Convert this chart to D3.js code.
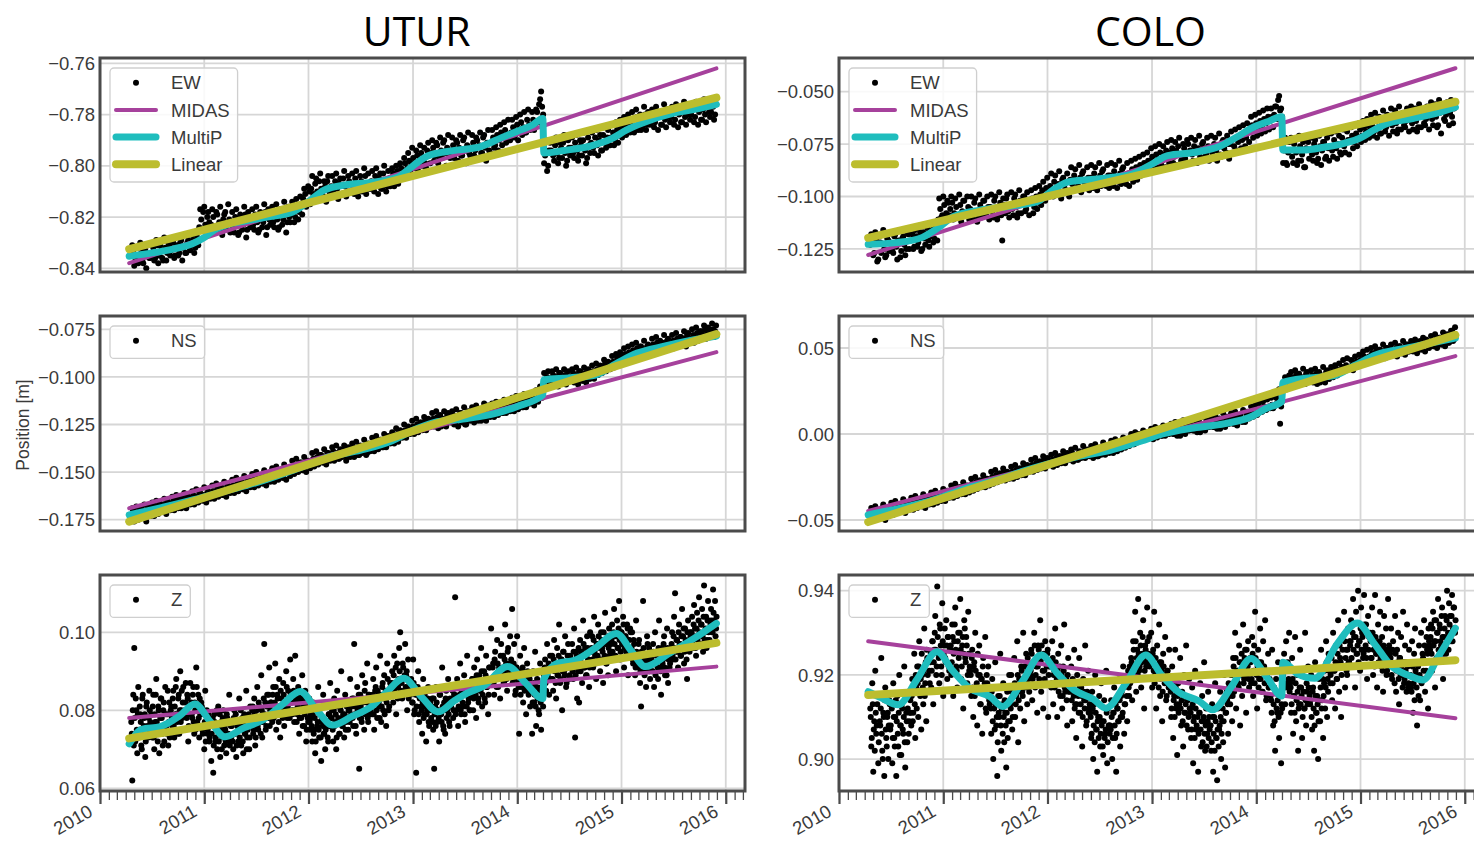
<!DOCTYPE html>
<html>
<head>
<meta charset="utf-8">
<script src="https://cdn.jsdelivr.net/npm/d3@7"></script>
<style>
  body { margin: 0; background: #fff; }
  svg { display: block; }
  text { font-family: "Liberation Sans", Arial, Helvetica, sans-serif; }
</style>
</head>
<body>
<svg id="fig" width="1474" height="843"></svg>
<script>
// ---------------------------------------------------------------------------
// GPS station positions in millimetres, starting 2010.30.
// "A" sets: EW / NS weekly, Z twice weekly. "B" sets: same cadence,
// sampled half a step later.
// ---------------------------------------------------------------------------
const uturEW = [
  -835,-833,-836,-832,-837,-834,-838,-833,-835,-836, -834,-832,-836,-831,-835,-833,-837,-832,-834,-831,
  -833,-830,-835,-831,-834,-829,-832,-834,-830,-832, -831,-829,-832,-828,-824,-821,-818,-823,-820,-822,
  -823,-820,-824,-819,-822,-825,-821,-818,-823,-821, -822,-824,-820,-823,-826,-821,-823,-819,-825,-822,
  -821,-823,-819,-822,-825,-820,-822,-818,-824,-821, -820,-822,-818,-821,-824,-819,-821,-817,-822,-820,
  -819,-817,-820,-816,-818,-815,-813,-811,-814,-810, -809,-811,-807,-810,-806,-809,-812,-808,-806,-810,
  -808,-810,-806,-809,-807,-811,-805,-808,-810,-806, -807,-809,-805,-808,-810,-806,-808,-804,-807,-809,
  -806,-808,-804,-807,-805,-809,-803,-806,-808,-805, -805,-803,-806,-802,-804,-801,-803,-799,-801,-798,
  -799,-797,-800,-796,-798,-795,-797,-799,-794,-796, -795,-793,-796,-792,-797,-794,-791,-795,-793,-796,
  -794,-792,-795,-791,-793,-796,-790,-794,-792,-795, -793,-791,-794,-790,-792,-795,-789,-793,-791,-794,
  -791,-789,-792,-788,-790,-787,-789,-786,-788,-790, -787,-785,-788,-784,-786,-783,-785,-787,-782,-784,
  -784,-782,-785,-779,-776,-771,-780,-796,-802,-794, -794,-796,-792,-795,-797,-793,-791,-795,-798,-793,
  -793,-795,-791,-794,-796,-792,-790,-794,-797,-792, -791,-793,-789,-792,-790,-794,-788,-791,-789,-792,
  -789,-787,-790,-786,-788,-785,-787,-784,-786,-783, -784,-782,-785,-781,-783,-786,-782,-780,-784,-782,
  -782,-780,-783,-779,-781,-784,-780,-782,-778,-781, -781,-779,-782,-778,-780,-783,-779,-781,-777,-780,
  -780,-778,-781,-777,-779,-782,-778,-780,-776,-779, -779,-777,-780
];
const uturEWb = [
  -831,-839,-832,-838,-830,-837,-833,-840,-831,-836, -830,-837,-829,-838,-831,-836,-828,-837,-830,-835,
  -829,-836,-828,-835,-830,-837,-827,-834,-829,-833, -827,-834,-826,-831,-817,-825,-816,-826,-818,-824,
  -817,-826,-818,-825,-816,-827,-819,-824,-815,-826, -818,-826,-817,-827,-819,-825,-816,-828,-818,-824,
  -817,-825,-816,-826,-818,-824,-815,-827,-817,-823, -816,-824,-815,-825,-817,-823,-814,-826,-816,-822,
  -814,-822,-813,-821,-812,-819,-809,-816,-808,-815, -804,-813,-805,-812,-803,-811,-806,-814,-804,-812,
  -804,-812,-803,-813,-805,-811,-802,-812,-804,-810, -803,-811,-802,-812,-804,-810,-801,-811,-803,-809,
  -802,-810,-801,-811,-803,-809,-800,-810,-802,-808, -801,-808,-800,-807,-799,-805,-797,-804,-795,-802,
  -793,-801,-794,-802,-792,-800,-793,-801,-791,-799, -790,-798,-791,-799,-789,-797,-790,-800,-788,-797,
  -789,-797,-790,-798,-788,-796,-789,-799,-787,-796, -788,-796,-789,-797,-787,-795,-788,-798,-786,-795,
  -786,-793,-785,-794,-784,-792,-783,-791,-782,-790, -782,-789,-781,-790,-780,-788,-779,-787,-778,-786,
  -779,-786,-778,-783,-774,-777,-799,-790,-800,-791, -790,-798,-789,-799,-791,-797,-788,-800,-790,-796,
  -789,-797,-788,-798,-790,-796,-787,-799,-789,-795, -787,-795,-786,-796,-788,-794,-785,-793,-786,-792,
  -784,-792,-783,-791,-782,-789,-781,-788,-780,-787, -779,-787,-778,-786,-780,-785,-777,-786,-779,-784,
  -778,-785,-777,-786,-779,-784,-776,-785,-778,-783, -777,-784,-776,-785,-778,-783,-775,-784,-777,-782,
  -776,-783,-775,-784,-777,-782,-774,-783,-776,-781, -775,-782,-776
];
const uturNS = [
  -173,-170,-174,-171,-172,-169,-173,-170,-171,-168, -170,-167,-171,-168,-166,-170,-167,-169,-165,-168,
  -167,-165,-168,-164,-166,-169,-164,-166,-163,-165, -165,-162,-166,-163,-161,-164,-162,-165,-161,-163,
  -162,-160,-163,-159,-161,-158,-162,-159,-157,-160, -159,-157,-160,-156,-158,-155,-159,-156,-154,-157,
  -156,-154,-157,-153,-155,-152,-156,-153,-151,-154, -153,-151,-154,-150,-152,-149,-153,-150,-148,-151,
  -149,-147,-150,-146,-148,-145,-149,-146,-144,-147, -145,-143,-146,-142,-144,-141,-145,-142,-140,-143,
  -141,-139,-142,-140,-143,-139,-141,-138,-142,-140, -139,-137,-140,-138,-141,-137,-139,-136,-140,-138,
  -137,-135,-138,-134,-136,-133,-137,-134,-135,-133, -134,-131,-133,-130,-132,-129,-131,-128,-130,-127,
  -128,-126,-129,-125,-127,-124,-126,-123,-125,-124, -124,-122,-125,-121,-123,-126,-122,-124,-120,-123,
  -122,-120,-124,-121,-123,-119,-122,-125,-120,-121, -121,-119,-122,-118,-120,-123,-119,-121,-117,-120,
  -119,-117,-120,-116,-118,-115,-119,-116,-114,-117, -116,-114,-117,-113,-115,-112,-116,-113,-111,-114,
  -113,-111,-112,-108,-110,-107,-109,-102,-100,-103, -101,-99,-102,-100,-98,-101,-103,-99,-100,-102,
  -100,-98,-101,-99,-97,-100,-102,-98,-99,-101, -99,-97,-98,-96,-97,-95,-96,-93,-95,-94,
  -94,-92,-93,-90,-92,-89,-91,-88,-89,-87, -88,-86,-87,-85,-87,-84,-86,-88,-84,-85,
  -85,-83,-86,-82,-84,-86,-82,-84,-81,-83, -83,-81,-84,-80,-82,-79,-83,-80,-78,-81,
  -80,-78,-81,-77,-79,-76,-78,-75,-77,-76, -77,-75,-76
];
const uturNSb = [
  -169,-176,-168,-175,-170,-174,-167,-176,-169,-173, -166,-173,-165,-172,-167,-171,-164,-172,-166,-170,
  -163,-170,-162,-169,-164,-168,-161,-169,-163,-167, -160,-167,-159,-166,-161,-165,-158,-166,-160,-164,
  -157,-164,-156,-163,-158,-162,-155,-163,-157,-161, -154,-161,-153,-160,-155,-159,-152,-160,-154,-158,
  -151,-158,-150,-157,-152,-156,-149,-157,-151,-155, -148,-155,-147,-154,-149,-153,-146,-154,-148,-152,
  -144,-151,-143,-150,-145,-149,-142,-150,-144,-148, -140,-147,-139,-146,-141,-145,-138,-146,-140,-144,
  -137,-144,-136,-143,-138,-142,-136,-144,-137,-142, -135,-142,-134,-141,-136,-140,-133,-141,-135,-139,
  -132,-139,-131,-138,-133,-137,-130,-137,-131,-135, -129,-135,-127,-134,-128,-132,-125,-132,-126,-130,
  -123,-130,-122,-129,-124,-128,-121,-128,-122,-126, -119,-126,-118,-127,-120,-125,-118,-126,-119,-124,
  -118,-125,-117,-126,-119,-124,-116,-125,-118,-123, -116,-124,-115,-123,-117,-122,-114,-123,-115,-121,
  -114,-121,-113,-120,-115,-119,-112,-119,-113,-118, -111,-118,-110,-117,-112,-116,-109,-116,-110,-114,
  -109,-115,-107,-113,-105,-111,-98,-104,-97,-105, -97,-104,-96,-105,-98,-103,-96,-104,-97,-102,
  -96,-103,-95,-104,-97,-102,-95,-103,-96,-101, -94,-101,-93,-99,-94,-98,-91,-97,-92,-96,
  -89,-95,-88,-94,-87,-92,-85,-91,-84,-89, -83,-89,-82,-88,-84,-87,-81,-89,-83,-86,
  -80,-87,-79,-86,-81,-85,-78,-86,-80,-84, -78,-85,-77,-84,-79,-83,-76,-84,-77,-82,
  -75,-82,-74,-81,-76,-80,-73,-80,-74,-78, -72,-79,-73
];
const uturZ = [
  77,62,84,96,72,80,69,86,75,79,71,83,74,78,68,81,76,73,85,77,
  79,73,84,70,77,88,75,81,69,78,83,74,80,72,86,76,79,71,82,77,
  81,76,85,73,79,88,77,83,74,90,80,78,86,75,82,79,84,72,81,87,
  82,78,86,74,80,91,77,84,73,79,82,75,80,70,85,77,74,79,72,76,
  67,76,64,79,72,75,70,81,74,68,77,73,80,71,75,69,78,74,84,72,
  73,77,70,80,74,68,76,72,83,75,71,78,69,79,74,85,73,77,70,81,
  76,80,74,83,71,78,86,75,81,77,89,73,79,97,82,76,84,78,91,80,
  82,77,86,79,92,75,84,80,88,73,83,79,87,76,81,90,78,85,82,93,
  84,80,88,77,94,82,79,86,74,83,78,89,81,76,85,72,80,77,83,75,
  78,72,82,75,69,80,76,86,73,79,67,77,84,74,70,81,76,72,79,87,
  76,80,72,83,77,70,85,78,74,81,90,76,79,73,84,77,82,75,80,88,
  79,83,76,97,81,74,86,80,65,84,78,89,82,75,87,80,92,77,84,79,
  83,79,88,75,85,91,78,84,81,94,77,86,80,89,83,76,92,85,81,87,
  85,90,82,94,87,79,92,86,96,100,88,83,91,85,97,89,80,93,86,84,
  88,82,93,79,86,64,84,90,77,85,81,74,88,79,83,72,80,86,76,82,
  78,83,75,65,81,86,77,80,72,84,79,91,76,82,74,85,80,88,77,83,
  81,86,78,84,109,80,88,76,83,92,79,85,81,89,77,84,94,82,86,80,
  84,88,80,91,86,78,93,83,89,85,96,81,87,90,82,94,86,79,91,88,
  101,87,92,84,95,89,98,86,91,83,97,90,94,87,102,92,85,96,89,99,
  93,106,88,97,84,91,99,87,74,94,86,90,82,96,88,79,92,85,89,81,
  86,74,90,82,95,76,88,84,79,92,75,86,81,89,93,85,97,90,84,94,
  88,94,85,98,91,83,96,89,102,87,93,80,95,90,99,86,92,97,88,94,
  92,97,88,101,73,95,83,90,82,98,94,87,103,91,96,89,99,93,86,100,
  95,99,91,104,94,88,97,102,93,90,100,96,87,98,105,92,97,89,101,95,
  97,102,94,106,99,90,103,96,108,93,100,97,104,91,99,95,102,89,98,101,
  96,100,92,97,89,103,94,91,98,87,81,95,108,90,93,86,99,92,96,88,
  94,90,97,86,100,92,95,88,103,91,84,96,93,99,89,94,101,87,95,92,
  96,100,93,104,110,95,98,91,102,97,94,106,99,92,101,96,88,103,98,100,
  99,104,96,107,101,94,105,99,109,97,102,106,95,112,100,104,98,108,103,97,
  106,100,111,103,108,101
];
const uturZb = [
  74,80,71,78,83,75,79,73,81,77,70,84,76,79,72,82,75,78,80,74,
  76,81,73,79,84,77,72,80,75,83,78,71,82,76,79,74,85,77,73,80,
  78,83,76,81,86,79,74,84,80,77,85,82,75,80,87,78,83,76,81,79,
  79,84,77,82,75,86,80,78,83,76,81,74,79,77,72,80,75,78,73,77,
  74,78,71,77,73,80,76,72,79,75,70,78,74,76,72,79,73,77,71,76,
  76,72,78,74,79,71,77,75,73,80,76,72,78,74,77,70,75,79,73,76,
  77,81,75,79,73,80,76,82,78,74,80,77,83,79,75,81,78,84,76,82,
  80,84,78,82,86,79,83,77,81,85,80,78,84,82,79,86,81,83,78,84,
  82,79,85,80,83,77,81,84,78,82,80,76,83,79,81,75,78,80,77,79,
  76,79,74,78,72,80,77,75,79,73,78,76,74,81,75,77,73,79,76,78,
  78,75,80,76,79,73,81,77,74,80,78,76,82,79,75,81,78,80,77,82,
  81,78,83,79,76,82,80,84,78,81,77,83,80,85,79,82,78,84,81,80,
  81,84,79,83,86,80,85,82,78,84,81,87,83,79,85,82,88,80,84,86,
  87,84,89,85,91,86,83,88,90,85,87,92,84,89,86,90,88,83,87,85,
  85,82,87,80,84,81,86,79,83,85,80,82,78,84,81,79,83,77,82,80,
  81,77,83,79,76,82,80,78,84,79,77,81,75,80,83,78,82,79,76,81,
  82,85,80,84,79,83,86,81,84,80,85,82,87,79,84,81,86,83,80,85,
  85,88,83,87,84,89,86,82,88,85,90,84,87,83,89,86,88,84,91,87,
  88,91,87,93,89,86,92,90,88,94,89,91,87,93,90,88,95,89,92,90,
  90,87,92,88,85,91,89,86,90,84,88,91,87,85,89,86,90,84,88,86,
  85,82,87,84,81,86,83,80,85,82,86,83,88,91,87,90,89,92,88,91,
  91,88,93,90,87,92,89,94,91,88,93,90,95,89,92,87,94,91,89,93,
  93,90,95,92,89,94,91,96,93,90,95,92,97,91,94,89,96,93,91,95,
  96,93,98,95,92,97,94,99,96,93,98,95,100,94,97,92,99,96,94,98,
  98,95,100,97,94,99,96,101,98,95,100,97,102,96,99,94,101,98,96,100,
  96,93,98,94,91,95,92,97,93,90,95,92,96,89,94,91,97,93,90,95,
  93,90,95,92,89,94,91,96,93,90,95,92,97,91,94,89,96,93,91,95,
  97,94,99,96,93,98,95,100,97,94,99,96,101,95,98,93,100,97,95,99,
  100,97,102,99,96,101,98,103,100,97,102,99,104,98,101,96,103,100,98,102,
  103,100,105,102,99,104
];
const coloEW = [
  -123,-119,-127,-121,-130,-122,-118,-125,-128,-121, -122,-126,-119,-124,-121,-129,-120,-123,-125,-118,
  -121,-118,-124,-119,-122,-117,-125,-120,-118,-121, -119,-116,-120,-115,-111,-106,-109,-104,-108,-103,
  -106,-103,-108,-105,-110,-104,-107,-102,-109,-105, -106,-108,-103,-107,-110,-104,-106,-102,-108,-105,
  -105,-107,-102,-106,-109,-103,-121,-104,-101,-107, -104,-106,-101,-105,-108,-102,-104,-100,-106,-103,
  -103,-101,-105,-100,-103,-99,-97,-101,-96,-98, -95,-97,-93,-96,-94,-98,-92,-95,-97,-93,
  -92,-94,-90,-93,-95,-91,-89,-93,-96,-91, -91,-93,-89,-92,-94,-90,-88,-92,-95,-90,
  -90,-92,-88,-91,-93,-89,-87,-91,-94,-89, -89,-87,-91,-86,-88,-85,-87,-84,-86,-83,
  -83,-81,-84,-80,-82,-79,-83,-80,-78,-81, -79,-77,-81,-78,-76,-80,-82,-77,-79,-75,
  -78,-80,-76,-79,-77,-81,-75,-78,-80,-76, -77,-79,-75,-78,-76,-80,-74,-77,-79,-75,
  -75,-73,-76,-72,-74,-71,-73,-70,-72,-69, -68,-66,-69,-65,-67,-64,-66,-63,-65,-62,
  -64,-62,-61,-57,-54,-59,-62,-78,-84,-79, -78,-81,-75,-79,-83,-76,-80,-86,-77,-74,
  -78,-80,-75,-79,-82,-76,-78,-74,-81,-77, -76,-78,-73,-77,-75,-79,-72,-76,-74,-73,
  -73,-71,-74,-70,-72,-68,-71,-67,-69,-66, -68,-66,-69,-64,-67,-70,-65,-63,-67,-64,
  -64,-66,-62,-65,-68,-63,-61,-66,-64,-62, -63,-65,-61,-64,-67,-62,-60,-65,-63,-61,
  -61,-63,-59,-62,-66,-60,-58,-63,-61,-59, -60,-62,-58
];
const coloEWb = [
  -118,-128,-117,-131,-119,-127,-116,-129,-120,-126, -117,-127,-118,-130,-116,-126,-119,-128,-117,-125,
  -115,-125,-116,-124,-114,-126,-117,-123,-115,-124, -113,-122,-114,-121,-101,-110,-100,-111,-102,-109,
  -100,-111,-101,-110,-99,-112,-102,-109,-100,-111, -100,-111,-101,-112,-99,-110,-102,-109,-100,-111,
  -99,-110,-100,-111,-98,-109,-101,-108,-99,-110, -98,-109,-99,-110,-97,-108,-100,-107,-98,-109,
  -97,-108,-96,-106,-95,-104,-93,-102,-91,-100, -89,-100,-90,-99,-88,-101,-91,-98,-89,-100,
  -86,-97,-87,-96,-85,-98,-88,-95,-86,-97, -85,-96,-86,-97,-84,-95,-87,-94,-85,-96,
  -84,-95,-85,-96,-83,-94,-86,-93,-84,-95, -83,-93,-82,-92,-81,-90,-80,-89,-79,-88,
  -77,-87,-76,-86,-75,-85,-76,-86,-74,-84, -73,-84,-74,-85,-72,-83,-75,-82,-73,-84,
  -72,-83,-73,-84,-71,-82,-74,-81,-72,-83, -71,-82,-72,-83,-70,-81,-73,-80,-71,-82,
  -69,-79,-68,-78,-67,-77,-66,-76,-65,-74, -62,-72,-61,-71,-60,-70,-59,-69,-58,-68,
  -58,-67,-57,-63,-52,-58,-84,-72,-85,-74, -72,-84,-73,-85,-71,-83,-74,-86,-72,-82,
  -72,-83,-73,-84,-71,-85,-74,-82,-72,-83, -70,-81,-69,-82,-71,-80,-68,-79,-69,-80,
  -67,-77,-66,-76,-65,-74,-64,-73,-63,-72, -61,-71,-60,-72,-62,-70,-59,-69,-61,-71,
  -58,-69,-59,-70,-57,-68,-60,-67,-58,-69, -57,-68,-58,-69,-56,-67,-59,-66,-57,-68,
  -55,-66,-56,-67,-54,-70,-57,-64,-55,-66, -54,-65,-56
];
const coloNS = [
  -47,-44,-48,-45,-49,-46,-43,-47,-44,-45, -44,-42,-46,-43,-41,-45,-42,-44,-40,-43,
  -42,-40,-43,-39,-41,-38,-42,-39,-37,-40, -39,-37,-40,-36,-38,-35,-37,-34,-36,-35,
  -35,-33,-36,-32,-34,-31,-33,-30,-32,-31, -31,-29,-32,-28,-30,-27,-29,-26,-28,-27,
  -27,-25,-28,-24,-26,-23,-25,-22,-24,-25, -24,-22,-25,-21,-23,-20,-22,-19,-21,-20,
  -20,-18,-21,-17,-19,-16,-18,-15,-17,-16, -17,-15,-18,-14,-16,-13,-15,-12,-14,-13,
  -13,-11,-14,-12,-15,-11,-13,-10,-12,-11, -11,-9,-12,-10,-13,-9,-11,-8,-10,-9,
  -9,-7,-10,-6,-8,-5,-7,-4,-6,-5, -5,-3,-6,-2,-4,-1,-3,0,-2,-1,
  -1,1,-2,2,0,3,-1,2,0,1, 1,3,0,4,2,-1,3,1,5,2,
  3,5,2,6,4,1,5,3,7,4, 5,7,4,8,6,3,7,5,9,6,
  7,9,6,10,8,11,7,9,12,10, 10,12,11,14,12,15,13,16,14,15,
  15,17,16,21,24,6,19,30,28,32, 31,33,30,34,32,29,33,31,35,32,
  32,34,31,35,33,30,34,32,36,33, 34,36,35,38,36,37,39,37,40,38,
  38,40,39,42,41,43,42,45,43,44, 45,47,44,48,46,49,45,47,50,46,
  47,49,46,50,48,51,47,49,52,48, 50,52,49,53,51,54,50,52,55,51,
  52,54,51,55,53,56,52,54,57,53, 56,60,55
];
const coloNSb = [
  -43,-50,-42,-49,-44,-48,-41,-50,-43,-47, -40,-47,-39,-46,-41,-45,-38,-46,-40,-44,
  -37,-44,-36,-43,-38,-42,-35,-43,-37,-41, -34,-41,-33,-40,-35,-39,-32,-39,-33,-37,
  -30,-37,-29,-36,-31,-35,-28,-35,-30,-34, -26,-33,-25,-32,-27,-31,-24,-31,-26,-30,
  -22,-29,-21,-28,-23,-27,-20,-27,-22,-26, -19,-26,-18,-25,-20,-24,-17,-24,-18,-22,
  -15,-22,-14,-21,-16,-20,-13,-20,-14,-18, -12,-19,-11,-18,-13,-17,-10,-17,-11,-15,
  -9,-16,-8,-15,-10,-14,-7,-14,-9,-13, -7,-14,-6,-13,-8,-12,-5,-12,-7,-11,
  -4,-11,-3,-10,-5,-9,-2,-8,-3,-7, 0,-6,1,-5,0,-4,2,-3,1,-2,
  3,-3,4,-2,3,-1,5,-1,4,0, 6,0,7,-1,5,1,8,0,6,2,
  8,2,9,1,7,3,10,2,8,4, 10,4,11,3,9,5,12,4,10,6,
  12,6,13,5,11,8,14,7,13,9, 16,10,17,11,18,13,19,14,20,16,
  21,15,22,18,26,16,27,33,26,34, 36,29,37,28,35,30,38,29,36,31,
  37,30,38,29,36,31,39,30,37,32, 39,33,40,34,41,36,43,37,44,39,
  43,37,45,39,46,41,48,43,49,45, 50,44,51,43,49,45,52,44,50,46,
  52,46,53,45,51,47,54,46,52,48, 54,48,55,47,53,49,56,48,54,50,
  57,51,58,50,56,52,59,51,58,53, 60,54,62
];
const coloZ = [
  912,903,918,897,909,921,906,913,899,915,908,924,902,911,896,917,905,910,900,914,
  907,913,899,918,905,910,896,915,903,920,908,901,912,906,922,898,911,904,916,909,
  914,908,919,911,925,905,917,922,910,928,915,907,920,913,931,918,909,924,916,921,
  923,917,928,913,926,934,920,941,925,918,931,922,937,915,927,924,933,919,929,921,
  926,920,932,915,928,936,922,917,930,925,938,919,927,912,933,924,929,918,935,921,
  921,915,926,910,923,930,917,908,920,927,913,919,906,924,916,929,911,918,922,914,
  914,906,919,900,912,923,908,896,915,910,925,902,913,918,904,911,898,916,909,920,
  913,920,907,917,924,910,915,928,904,919,912,922,916,930,909,918,925,913,921,916,
  920,926,914,923,930,917,922,911,927,919,933,916,924,912,921,928,918,925,910,922,
  923,917,928,913,921,931,918,910,925,920,915,927,912,922,932,916,919,908,924,918,
  916,922,909,918,926,913,905,920,915,924,911,917,903,919,914,927,908,916,921,912,
  911,905,916,900,913,920,907,897,910,915,903,918,909,901,914,906,921,899,912,908,
  908,914,900,911,917,905,897,912,909,919,903,915,910,922,906,913,918,909,921,915,
  918,924,914,928,920,935,916,926,938,921,930,917,925,933,912,927,922,936,919,929,
  924,930,917,926,935,920,912,927,922,932,915,923,909,925,919,929,914,921,918,926,
  917,910,922,905,915,926,912,901,918,913,924,908,916,903,920,911,927,914,907,919,
  912,905,917,899,910,921,907,914,897,911,918,903,915,909,923,902,912,906,916,910,
  908,902,913,897,910,918,905,895,912,907,916,900,909,904,920,898,911,914,906,917,
  913,920,909,924,916,930,912,921,918,927,908,923,915,932,919,926,911,922,928,917,
  924,918,929,915,927,935,921,912,926,919,931,923,916,928,922,933,914,920,925,917,
  921,914,926,908,917,902,919,911,923,905,915,899,912,920,925,913,928,917,922,930,
  918,911,924,906,915,929,909,920,902,913,926,917,905,921,912,930,908,916,922,914,
  913,920,907,917,902,923,911,915,900,919,909,926,914,905,918,912,928,910,916,921,
  918,925,914,930,921,912,927,919,933,916,924,910,929,922,935,917,926,920,931,923,
  927,933,922,938,929,917,935,925,940,928,921,936,930,924,939,926,932,919,934,929,
  930,924,936,920,928,939,925,917,932,927,935,922,929,916,934,926,931,921,938,927,
  925,931,919,928,922,934,916,926,930,913,924,929,920,935,918,927,923,932,917,926,
  923,917,928,911,925,931,920,908,922,927,914,930,919,924,933,916,921,926,912,928,
  926,932,921,935,928,917,933,930,938,924,931,927,936,919,929,934,925,940,930,937,
  934,928,939,931,936,930
];
const coloZb = [
  910,905,913,907,902,911,908,915,904,909,912,906,900,910,914,907,903,911,908,913,
  908,912,905,910,903,914,909,906,911,901,908,913,907,910,904,915,909,912,906,911,
  911,915,909,917,913,920,912,918,922,916,919,925,917,921,915,923,926,920,924,918,
  925,921,928,923,930,926,922,929,924,932,927,920,928,925,931,923,927,929,922,926,
  927,923,929,925,932,926,921,928,924,930,926,922,929,925,931,923,927,920,925,922,
  920,924,917,922,915,921,918,925,916,920,913,919,922,916,918,912,920,915,917,913,
  912,916,909,914,907,913,910,904,911,915,908,912,906,910,914,908,911,905,913,909,
  912,916,910,915,918,913,917,920,914,919,916,921,915,918,922,917,920,924,919,922,
  921,925,919,923,927,920,924,922,926,918,923,927,921,925,919,924,922,926,920,923,
  922,918,924,920,917,923,919,921,916,922,918,920,915,921,917,919,914,920,916,918,
  917,914,919,915,912,918,913,916,911,917,913,915,910,916,912,914,909,915,911,913,
  910,906,912,908,904,911,907,909,905,910,906,908,903,909,905,907,911,904,908,906,
  907,910,905,911,908,913,906,912,909,914,910,916,911,917,913,919,915,920,917,922,
  919,923,921,926,922,928,924,920,925,922,927,923,929,924,921,926,923,928,925,922,
  923,919,925,921,918,924,920,922,917,923,919,921,916,922,918,920,915,921,917,919,
  916,912,918,914,910,917,913,915,911,916,912,914,909,915,911,913,908,914,910,912,
  911,907,913,909,905,912,908,910,906,911,907,909,904,910,906,908,903,909,905,907,
  908,904,910,906,902,909,905,907,903,908,910,906,912,909,914,911,916,913,918,915,
  917,920,915,922,918,924,919,921,917,923,920,925,921,918,924,920,926,922,919,923,
  923,919,925,921,918,924,920,922,917,923,919,921,916,922,918,920,915,921,917,919,
  915,911,917,913,909,916,912,914,910,915,911,913,919,922,917,921,918,923,919,916,
  917,913,919,915,911,918,914,916,912,917,913,915,910,916,912,914,918,913,917,915,
  914,910,916,912,908,915,911,913,909,914,917,912,919,915,921,917,923,919,925,921,
  920,924,918,926,921,923,919,925,922,927,923,920,926,922,928,924,921,926,923,928,
  928,924,930,926,922,929,925,927,923,928,931,926,929,925,932,927,924,930,926,929,
  928,924,930,926,922,929,925,927,923,928,924,926,921,927,923,925,920,926,922,924,
  924,920,926,922,918,925,921,923,919,924,920,922,917,923,919,921,916,922,918,920,
  920,916,922,918,914,921,917,919,915,920,923,918,925,921,927,923,929,925,931,927,
  929,925,931,927,933,928,924,930,926,932,928,934,929,925,931,927,933,929,926,932,
  930,934,928,936,931,933
];

// MultiP model curves: [decimal year, mm]
const uturEWMultiP = [[2010.28,-835.3],[2010.50,-834],[2010.70,-832.5],[2010.88,-830.5],[2011.00,-828],[2011.10,-825],[2011.22,-823],[2011.40,-821.5],[2011.60,-820],[2011.85,-818],[2012.00,-814],[2012.15,-809.5],[2012.35,-807.5],[2012.60,-806.5],[2012.85,-804.5],[2013.00,-800],[2013.15,-796],[2013.40,-794],[2013.65,-792.5],[2013.85,-789],[2014.00,-786.5],[2014.15,-784],[2014.245,-781.5],[2014.255,-795],[2014.45,-794],[2014.70,-792.3],[2014.90,-789.5],[2015.05,-786],[2015.20,-783.3],[2015.50,-779.4],[2015.70,-778],[2015.91,-776]];
const uturNSMultiP = [[2010.28,-172.5],[2010.60,-168.5],[2010.90,-164.5],[2011.20,-160],[2011.50,-155.5],[2011.80,-150],[2012.00,-146],[2012.20,-142],[2012.50,-138.5],[2012.80,-133.5],[2013.00,-128],[2013.20,-124],[2013.50,-122],[2013.80,-119],[2014.00,-115.5],[2014.245,-109.5],[2014.255,-101.5],[2014.50,-100.5],[2014.75,-99],[2014.95,-93],[2015.15,-87.5],[2015.40,-84],[2015.65,-81],[2015.91,-78.5]];
const uturZMultiP = [[2010.28,71.4],[2010.40,75.1],[2010.58,75.8],[2010.76,78.5],[2010.91,81.6],[2011.06,77],[2011.20,73.2],[2011.38,75.5],[2011.56,77.5],[2011.75,81.5],[2011.92,84.8],[2012.08,80],[2012.23,76.2],[2012.42,78.5],[2012.60,80.9],[2012.76,85],[2012.91,88.2],[2013.08,83.5],[2013.24,79.6],[2013.40,82.5],[2013.52,84.4],[2013.67,86.1],[2013.91,91.2],[2014.08,87],[2014.245,83],[2014.255,88],[2014.39,92.1],[2014.55,92.8],[2014.75,96],[2014.95,99.7],[2015.10,95],[2015.23,91.2],[2015.45,94.5],[2015.70,98.5],[2015.91,102.3]];
const coloEWMultiP = [[2010.28,-122.8],[2010.55,-122],[2010.80,-119.5],[2010.95,-115],[2011.10,-109.5],[2011.35,-106.5],[2011.65,-104.5],[2011.90,-102.5],[2012.05,-97],[2012.20,-93],[2012.50,-91.5],[2012.80,-89.5],[2013.00,-84.5],[2013.15,-80.5],[2013.40,-79],[2013.65,-76],[2013.85,-70.5],[2013.95,-67.5],[2014.10,-64.5],[2014.245,-62],[2014.255,-77.8],[2014.45,-77.8],[2014.65,-76.5],[2014.85,-74.5],[2015.00,-72],[2015.12,-68.5],[2015.25,-65.3],[2015.50,-62.8],[2015.75,-60],[2015.91,-57.4]];
const coloNSMultiP = [[2010.28,-47],[2010.60,-43],[2010.90,-38.5],[2011.20,-32],[2011.50,-27],[2011.80,-21],[2012.00,-17.5],[2012.30,-13],[2012.60,-9.5],[2012.90,-4],[2013.10,0],[2013.40,3.5],[2013.70,6],[2013.95,10],[2014.10,15],[2014.245,19],[2014.255,30],[2014.50,32.5],[2014.75,34],[2014.95,40],[2015.15,46],[2015.40,49.5],[2015.65,52.5],[2015.91,55.8]];
const coloZMultiP = [[2010.28,916.0],[2010.40,914.6],[2010.57,912.9],[2010.75,919],[2010.94,925.5],[2011.09,921],[2011.25,916.9],[2011.45,914.8],[2011.57,912.5],[2011.76,918.5],[2011.94,924.7],[2012.09,920.5],[2012.25,916.5],[2012.44,914.2],[2012.56,912.1],[2012.75,918],[2012.94,924.7],[2013.09,920],[2013.25,916],[2013.45,913.8],[2013.58,911.7],[2013.77,917.5],[2013.95,923.9],[2014.10,919.5],[2014.245,915.0],[2014.255,923.0],[2014.40,920.2],[2014.56,919.2],[2014.78,927.5],[2014.97,932.3],[2015.13,927.5],[2015.30,922],[2015.45,920],[2015.60,918.8],[2015.75,924.5],[2015.91,931.1]];

// Straight-line models: value (mm) at the first and last model epoch
const modelSpan = [2010.28, 2015.91];
const uturEWMidas = [-838, -762],    uturEWLinear = [-832.5, -773.4];
const uturNSMidas = [-169, -87],     uturNSLinear = [-176, -77.5];
const uturZMidas  = [78, 91.2],      uturZLinear  = [72.8, 97.3];
const coloEWMidas = [-127.9, -38.8], coloEWLinear = [-119.7, -54.8];
const coloNSMidas = [-44.8, 45.3],   coloNSLinear = [-51.2, 57.6];
const coloZMidas  = [928.0, 909.7],  coloZLinear  = [915.2, 923.5];

// Tick values (m)
const uturEWTicks = [-0.84, -0.82, -0.80, -0.78, -0.76];
const uturNSTicks = [-0.175, -0.150, -0.125, -0.100, -0.075];
const uturZTicks  = [0.06, 0.08, 0.10];
const coloEWTicks = [-0.125, -0.100, -0.075, -0.050];
const coloNSTicks = [-0.05, 0.00, 0.05];
const coloZTicks  = [0.90, 0.92, 0.94];

const stations = ["UTUR", "COLO"];
const modelNames = ["MIDAS", "MultiP", "Linear"];

// ---------------------------------------------------------------------------
const COLORS = { MIDAS: "#a6419c", MultiP: "#1fbdbd", Linear: "#bcbd2e" };
const WIDTHS = { MIDAS: 4, MultiP: 7, Linear: 8 };
const FRAME = "#4b4b4b", GRID = "#d6d6d6", INK = "#3a3a3a";
const FS = 18.5;

const fromDecimal = yr => {
  const y0 = Math.floor(yr), a = Date.UTC(y0, 0, 1), b = Date.UTC(y0 + 1, 0, 1);
  return new Date(a + (yr - y0) * (b - a));
};
const obsStart = fromDecimal(2010.30);
const obsDates = (n, stepHours, lagHours) =>
  d3.range(n).map(i => d3.utcHour.offset(obsStart, lagHours + i * stepHours));

const cols = [100, 839];
const panelW = 645;
const rows = [[58, 272], [316, 531], [575, 791]];
const xDomain = [fromDecimal(2010), fromDecimal(2016.184)];

const panels = [
  { col: 0, row: 0, name: "EW", sets: [uturEW, uturEWb], step: 168, mp: uturEWMultiP, midas: uturEWMidas, linear: uturEWLinear, dom: [-0.84145, -0.75793], ticks: uturEWTicks, fmt: ".2f", full: true },
  { col: 0, row: 1, name: "NS", sets: [uturNS, uturNSb], step: 168, mp: uturNSMultiP, midas: uturNSMidas, linear: uturNSLinear, dom: [-0.18093, -0.06801], ticks: uturNSTicks, fmt: ".3f" },
  { col: 0, row: 2, name: "Z",  sets: [uturZ, uturZb],   step: 84,  mp: uturZMultiP,  midas: uturZMidas,  linear: uturZLinear,  dom: [0.05931, 0.11469], ticks: uturZTicks, fmt: ".2f" },
  { col: 1, row: 0, name: "EW", sets: [coloEW, coloEWb], step: 168, mp: coloEWMultiP, midas: coloEWMidas, linear: coloEWLinear, dom: [-0.13602, -0.03392], ticks: coloEWTicks, fmt: ".3f", full: true },
  { col: 1, row: 1, name: "NS", sets: [coloNS, coloNSb], step: 168, mp: coloNSMultiP, midas: coloNSMidas, linear: coloNSLinear, dom: [-0.0564, 0.0686], ticks: coloNSTicks, fmt: ".2f" },
  { col: 1, row: 2, name: "Z",  sets: [coloZ, coloZb],   step: 84,  mp: coloZMultiP,  midas: coloZMidas,  linear: coloZLinear,  dom: [0.89242, 0.94373], ticks: coloZTicks, fmt: ".2f" }
];

const svg = d3.select("#fig");
const defs = svg.append("defs");

panels.forEach((p, i) => {
  const x0 = cols[p.col], [y0, y1] = rows[p.row];
  const x = d3.scaleUtc().domain(xDomain).range([x0, x0 + panelW]);
  const y = d3.scaleLinear().domain(p.dom).range([y1, y0]);
  const g = svg.append("g");
  const clipId = "clip" + i;
  defs.append("clipPath").attr("id", clipId)
    .append("rect").attr("x", x0).attr("y", y0).attr("width", panelW).attr("height", y1 - y0);

  // grid
  const grid = g.append("g").attr("clip-path", `url(#${clipId})`)
    .attr("stroke", GRID).attr("stroke-width", 1.8);
  grid.selectAll("line.vx").data(d3.utcYear.range(xDomain[0], xDomain[1])).join("line")
    .attr("x1", d => x(d)).attr("x2", d => x(d)).attr("y1", y0).attr("y2", y1);
  grid.selectAll("line.hy").data(p.ticks).join("line")
    .attr("x1", x0).attr("x2", x0 + panelW).attr("y1", d => y(d)).attr("y2", d => y(d));

  // observations
  const pts = p.sets.flatMap((vals, k) => {
    const dates = obsDates(vals.length, p.step, k * p.step / 2);
    return vals.map((v, j) => [dates[j], v]);
  });
  g.append("g").attr("clip-path", `url(#${clipId})`)
    .selectAll("circle").data(pts).join("circle")
    .attr("cx", d => x(d[0])).attr("cy", d => y(d[1] / 1000))
    .attr("r", 3).attr("fill", "#000");

  // models
  const line = d3.line().x(d => x(fromDecimal(d[0]))).y(d => y(d[1] / 1000));
  const straight = v => [[modelSpan[0], v[0]], [modelSpan[1], v[1]]];
  const models = { MIDAS: straight(p.midas), MultiP: p.mp, Linear: straight(p.linear) };
  modelNames.forEach(m => {
    g.append("path")
      .attr("d", line.curve(m === "MultiP" ? d3.curveMonotoneX : d3.curveLinear)(models[m]))
      .attr("fill", "none").attr("stroke", COLORS[m]).attr("stroke-width", WIDTHS[m])
      .attr("stroke-linecap", "round").attr("stroke-linejoin", "round");
  });

  // frame
  g.append("rect").attr("x", x0).attr("y", y0).attr("width", panelW).attr("height", y1 - y0)
    .attr("fill", "none").attr("stroke", FRAME).attr("stroke-width", 3);

  // y tick labels
  const fmt = d3.format(p.fmt);
  g.selectAll("text.yt").data(p.ticks).join("text")
    .attr("x", x0 - 5).attr("y", d => y(d)).attr("dy", "0.36em")
    .attr("text-anchor", "end").attr("font-size", FS).attr("fill", INK)
    .text(d => fmt(d));

  // legend
  const lg = g.append("g").attr("transform", `translate(${x0 + 10},${y0 + 10})`);
  const entries = p.full ? [p.name, ...modelNames] : [p.name];
  const rowH = 27.2;
  const box = lg.append("rect").attr("rx", 4).attr("ry", 4)
    .attr("fill", "rgba(255,255,255,0.85)").attr("stroke", "#cfcfcf").attr("stroke-width", 1.3);
  let maxW = 0;
  entries.forEach((e, k) => {
    const cy = 14.7 + k * rowH;
    if (k === 0) {
      lg.append("circle").attr("cx", 26).attr("cy", cy).attr("r", 3).attr("fill", "#000");
    } else {
      lg.append("line").attr("x1", 6).attr("x2", 46).attr("y1", cy).attr("y2", cy)
        .attr("stroke", COLORS[e]).attr("stroke-width", WIDTHS[e]).attr("stroke-linecap", "round");
    }
    const t = lg.append("text").attr("x", 61).attr("y", cy).attr("dy", "0.36em")
      .attr("font-size", FS).attr("fill", INK).text(e);
    maxW = Math.max(maxW, t.node().getComputedTextLength());
  });
  box.attr("x", 0).attr("y", 0).attr("width", 61 + maxW + 8)
    .attr("height", 14.7 * 2 + 3 + (entries.length - 1) * rowH);

  // time axis under the bottom row
  if (p.row === 2) {
    const ay = y1 + 1;
    const minor = d3.axisBottom(x).ticks(d3.utcMonth.every(1)).tickSize(8).tickSizeOuter(0).tickFormat("");
    const major = d3.axisBottom(x).ticks(d3.utcYear.every(1)).tickSize(12).tickSizeOuter(0).tickFormat("");
    [minor, major].forEach((ax, k) => {
      const a = svg.append("g").attr("transform", `translate(0,${ay})`).call(ax);
      a.select(".domain").remove();
      a.selectAll(".tick line").attr("stroke", FRAME).attr("stroke-width", k ? 2.2 : 1.3);
    });
    const years = d3.utcYear.range(xDomain[0], xDomain[1]);
    const yfmt = d3.utcFormat("%Y");
    svg.append("g").selectAll("text").data(years).join("text")
      .attr("transform", d => `translate(${x(d) - 6},${815}) rotate(-30)`)
      .attr("text-anchor", "end").attr("font-size", FS).attr("fill", INK)
      .text(d => yfmt(d));
  }
});

// column titles
const titleX = [416.7, 1150.5];
svg.selectAll("text.title").data(stations).join("text")
  .attr("x", (d, i) => titleX[i]).attr("y", 46)
  .attr("text-anchor", "middle").attr("font-size", 41)
  .style("font-family", "'Open Sans', 'Noto Sans', sans-serif")
  .attr("fill", "#000").text(d => d);

// shared y label
svg.append("text")
  .attr("transform", "translate(29,425) rotate(-90)")
  .attr("text-anchor", "middle").attr("font-size", 17.5).attr("fill", INK)
  .text("Position [m]");
</script>
</body>
</html>
